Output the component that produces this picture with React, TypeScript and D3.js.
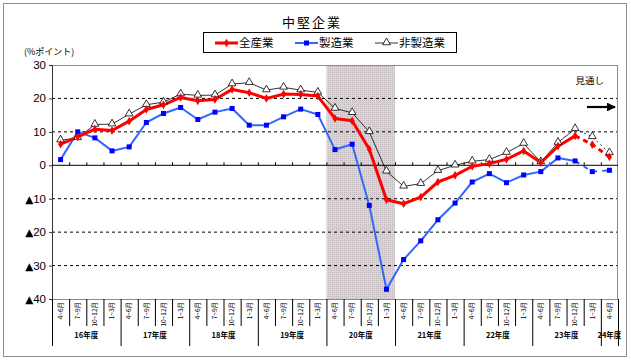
import * as React from 'react'
import { useEffect, useRef } from 'react'
import * as d3 from 'd3'

// quarters, 16年度 4-6月 .. 24年度 4-6月
const quarterNames = ['4~6月', '7~9月', '10~12月', '1~3月']
const years = ['16年度', '17年度', '18年度', '19年度', '20年度', '21年度', '22年度', '23年度', '24年度']
const yearCounts = [4, 4, 4, 4, 4, 4, 4, 4, 1]

const allIndustries = [6.3, 8.5, 10.8, 10.4, 13.2, 16.7, 18.1, 20.3, 19.3, 19.7, 22.7, 21.7, 20.0, 21.3, 21.2, 20.7, 14.0, 13.3, 4.8, -10.3, -11.5, -9.5, -5.0, -3.0, -0.3, 0.5, 1.8, 4.3, 0.8, 5.7, 8.8, 6.2, 2.5]
const manufacturing = [1.7, 10.0, 8.2, 4.3, 5.5, 12.8, 15.5, 17.3, 13.7, 15.9, 17.0, 12.0, 12.0, 14.5, 16.8, 15.2, 4.7, 6.3, -12.0, -37.1, -28.2, -22.6, -16.3, -11.3, -5.0, -2.5, -5.2, -2.9, -1.9, 2.2, 1.3, -1.9, -1.5]
const nonManufacturing = [7.5, 8.2, 12.2, 12.3, 15.3, 18.1, 18.9, 21.3, 20.9, 21.0, 24.3, 24.7, 22.5, 23.3, 22.5, 21.8, 17.0, 15.7, 10.0, -1.8, -6.3, -5.5, -1.6, 0.0, 1.2, 1.7, 3.8, 6.5, 1.0, 6.8, 10.9, 8.5, 3.7]

const yTicks = [30, 20, 10, 0, -10, -20, -30, -40]
const lastActual = 30 // index of 23年度 10~12月, forecast after this
const shadeYear = '20年度'

const JP = "'Noto Sans CJK JP', sans-serif"
const NUM = "'Liberation Sans', Arial, sans-serif"

const W = 631
const H = 363
const margin = { top: 65, right: 13, bottom: 64, left: 52 }

const App = () => {
  const ref = useRef<HTMLDivElement | null>(null)

  useEffect(() => {
    const svg = d3.select(ref.current)
      .append('svg')
      .attr('width', W)
      .attr('height', H)
      .style('position', 'absolute')
      .style('left', 0)
      .style('top', 0)
      .style('background', '#fff')

    const labels: string[] = []
    const yearOf: string[] = []
    years.forEach((yr, k) => {
      for (let q = 0; q < yearCounts[k]; q++) {
        labels.push(quarterNames[q])
        yearOf.push(yr)
      }
    })
    const idx = labels.map((_, i) => String(i))

    const x = d3.scaleBand().domain(idx).range([margin.left, W - margin.right])
    const y = d3.scaleLinear().domain([-40, 30]).range([H - margin.bottom, margin.top])
    const cx = (i: number) => (x(String(i)) as number) + x.bandwidth() / 2
    const x0 = margin.left
    const x1 = W - margin.right
    const yBot = y(-40)

    // outer frame
    svg.append('rect')
      .attr('x', 3.5).attr('y', 3.5).attr('width', 623).attr('height', 353)
      .attr('fill', 'none').attr('stroke', '#8c8c8c')

    // shaded band (20年度)
    const first = yearOf.indexOf(shadeYear)
    const last = yearOf.lastIndexOf(shadeYear)
    const defs = svg.append('defs')
    const pat = defs.append('pattern').attr('id', 'dots')
      .attr('width', 2).attr('height', 2).attr('patternUnits', 'userSpaceOnUse')
    pat.append('rect').attr('width', 2).attr('height', 2).attr('fill', '#dcd3d7')
    pat.append('rect').attr('width', 1).attr('height', 1).attr('fill', '#c2babe')
    svg.append('rect')
      .attr('x', x(String(first)) as number)
      .attr('y', y(30))
      .attr('width', (x(String(last)) as number) + x.bandwidth() - (x(String(first)) as number))
      .attr('height', yBot - y(30))
      .attr('fill', 'url(#dots)')

    // grid
    svg.append('g').selectAll('line')
      .data(yTicks.filter(t => t !== 0 && t !== 30 && t !== -40))
      .enter().append('line')
      .attr('x1', x0).attr('x2', x1)
      .attr('y1', d => y(d)).attr('y2', d => y(d))
      .attr('stroke', '#000').attr('stroke-width', 1)
      .attr('stroke-dasharray', '3,3')

    // plot border
    svg.append('rect')
      .attr('x', x0 + 0.5).attr('y', y(30) + 0.5)
      .attr('width', x1 - x0 - 1).attr('height', yBot - y(30))
      .attr('fill', 'none').attr('stroke', '#8c8c8c')
    svg.append('line')
      .attr('x1', x0 + 0.5).attr('x2', x0 + 0.5).attr('y1', y(30)).attr('y2', yBot)
      .attr('stroke', '#333')

    // zero line with ticks
    svg.append('line')
      .attr('x1', x0).attr('x2', x1).attr('y1', y(0)).attr('y2', y(0))
      .attr('stroke', '#000')
    svg.append('g').selectAll('line')
      .data(idx.slice(1))
      .enter().append('line')
      .attr('x1', d => (x(d) as number) + 0.5).attr('x2', d => (x(d) as number) + 0.5)
      .attr('y1', y(0) - 3).attr('y2', y(0))
      .attr('stroke', '#000')

    // y labels
    const yl = svg.append('g').selectAll('text')
      .data(yTicks)
      .enter().append('text')
      .attr('x', 46).attr('y', d => y(d))
      .attr('dy', '0.35em')
      .attr('text-anchor', 'end')
      .attr('font-family', NUM).attr('font-size', 11.5)
    yl.filter(d => d < 0).append('tspan')
      .attr('font-family', "'DejaVu Sans', sans-serif").attr('font-size', 10.5)
      .text('▲')
    yl.append('tspan').text(d => String(Math.abs(d)))
    svg.append('g').selectAll('line')
      .data(yTicks)
      .enter().append('line')
      .attr('x1', x0 - 3).attr('x2', x0).attr('y1', d => y(d) + 0.5).attr('y2', d => y(d) + 0.5)
      .attr('stroke', '#333')

    svg.append('text')
      .attr('x', 24).attr('y', 55)
      .attr('font-family', JP).attr('font-size', 9)
      .text('(%ポイント)')

    // category separators below the plot
    const yearStarts = new Set<number>()
    let acc = 0
    yearCounts.forEach(c => { yearStarts.add(acc); acc += c })
    yearStarts.add(acc)
    const bounds = d3.range(0, labels.length + 1)
    svg.append('g').selectAll('line')
      .data(bounds)
      .enter().append('line')
      .attr('x1', i => (i < labels.length ? (x(String(i)) as number) : x1) + 0.5)
      .attr('x2', i => (i < labels.length ? (x(String(i)) as number) : x1) + 0.5)
      .attr('y1', yBot)
      .attr('y2', i => (yearStarts.has(i) ? 346 : 326))
      .attr('stroke', '#000')

    // quarter labels
    svg.append('g').selectAll('text')
      .data(labels)
      .enter().append('text')
      .attr('transform', (_, i) => `translate(${cx(i)},${yBot + 3}) rotate(-90)`)
      .attr('text-anchor', 'end')
      .attr('dy', '0.35em')
      .attr('font-family', JP).attr('font-size', 6.5)
      .text(d => d)

    // year labels
    let start = 0
    const yearPos = years.map((yr, k) => {
      const a = x(String(start)) as number
      const b = start + yearCounts[k] < labels.length ? (x(String(start + yearCounts[k])) as number) : x1
      start += yearCounts[k]
      return { yr, mid: (a + b) / 2 }
    })
    svg.append('g').selectAll('text')
      .data(yearPos)
      .enter().append('text')
      .attr('x', d => d.mid).attr('y', 338)
      .attr('text-anchor', 'middle')
      .attr('font-family', JP).attr('font-size', 7.5).attr('font-weight', 'bold')
      .text(d => d.yr)

    // series: solid up to lastActual, dashed forecast after it
    const seg = (vals: number[], a: number, b: number) =>
      vals.map((v, i) => ({ v, i })).filter(p => p.i >= a && p.i <= b)
    const lineP = d3.line<{ v: number, i: number }>().x(p => cx(p.i)).y(p => y(p.v))

    const drawSeries = (vals: number[], color: string, width: number, dash: string) => {
      svg.append('path')
        .datum(seg(vals, 0, lastActual))
        .attr('d', lineP)
        .attr('fill', 'none').attr('stroke', color).attr('stroke-width', width)
        .attr('stroke-linejoin', 'round')
      svg.append('path')
        .datum(seg(vals, lastActual, vals.length - 1))
        .attr('d', lineP)
        .attr('fill', 'none').attr('stroke', color).attr('stroke-width', width)
        .attr('stroke-dasharray', dash)
    }

    drawSeries(nonManufacturing, '#000', 0.8, '2,3')
    drawSeries(manufacturing, '#3366ff', 2, '5,5')
    drawSeries(allIndustries, '#ff0000', 3, '5,4')

    const triangle = d3.symbol().type(d3.symbolTriangle).size(26)
    svg.append('g').selectAll('path')
      .data(nonManufacturing)
      .enter().append('path')
      .attr('d', triangle)
      .attr('transform', (d, i) => `translate(${cx(i)},${y(d) - 0.5})`)
      .attr('fill', '#fff').attr('stroke', '#000').attr('stroke-width', 0.8)

    svg.append('g').selectAll('rect')
      .data(manufacturing)
      .enter().append('rect')
      .attr('x', (_, i) => cx(i) - 2.5).attr('y', d => y(d) - 2.5)
      .attr('width', 5).attr('height', 5)
      .attr('fill', '#0000ff')

    const diamond = d3.symbol().type(d3.symbolDiamond).size(22)
    svg.append('g').selectAll('path')
      .data(allIndustries)
      .enter().append('path')
      .attr('d', diamond)
      .attr('transform', (d, i) => `translate(${cx(i)},${y(d)})`)
      .attr('fill', '#ff0000')

    // title
    svg.append('text')
      .attr('x', 312).attr('y', 27)
      .attr('text-anchor', 'middle')
      .attr('font-family', JP).attr('font-size', 13).attr('letter-spacing', 2)
      .text('中堅企業')

    // legend
    const lg = svg.append('g')
    lg.append('rect')
      .attr('x', 203.5).attr('y', 32.5).attr('width', 253).attr('height', 20)
      .attr('fill', '#fff').attr('stroke', '#000')
    const items = [
      { name: '全産業', color: '#ff0000', w: 3, x: 215, kind: 'diamond' },
      { name: '製造業', color: '#3366ff', w: 2, x: 295, kind: 'square' },
      { name: '非製造業', color: '#000', w: 0.8, x: 375, kind: 'triangle' },
    ]
    items.forEach(it => {
      const ly = 43
      lg.append('line')
        .attr('x1', it.x).attr('x2', it.x + 23).attr('y1', ly).attr('y2', ly)
        .attr('stroke', it.color).attr('stroke-width', it.w)
      if (it.kind === 'diamond') {
        lg.append('path').attr('d', diamond).attr('transform', `translate(${it.x + 11.5},${ly})`).attr('fill', '#ff0000')
      } else if (it.kind === 'square') {
        lg.append('rect').attr('x', it.x + 9).attr('y', ly - 2.5).attr('width', 5).attr('height', 5).attr('fill', '#0000ff')
      } else {
        lg.append('path').attr('d', triangle).attr('transform', `translate(${it.x + 11.5},${ly - 0.5})`)
          .attr('fill', '#fff').attr('stroke', '#000').attr('stroke-width', 0.8)
      }
      lg.append('text')
        .attr('x', it.x + 24).attr('y', ly).attr('dy', '0.36em')
        .attr('font-family', JP).attr('font-size', 11.5)
        .text(it.name)
    })

    // outlook note
    svg.append('text')
      .attr('x', 604).attr('y', 84)
      .attr('text-anchor', 'end')
      .attr('font-family', JP).attr('font-size', 9.5)
      .text('見通し')
    defs.append('marker').attr('id', 'arr')
      .attr('viewBox', '0 0 10 10').attr('refX', 9).attr('refY', 5)
      .attr('markerWidth', 4).attr('markerHeight', 4).attr('orient', 'auto')
      .append('path').attr('d', 'M0,0L10,5L0,10z').attr('fill', '#000')
    svg.append('line')
      .attr('x1', 587).attr('x2', 615).attr('y1', 107).attr('y2', 107)
      .attr('stroke', '#000').attr('stroke-width', 2.2)
      .attr('marker-end', 'url(#arr)')

    return () => {
      svg.remove()
    }
  }, [])

  return <div ref={ref} />
}

export default App
